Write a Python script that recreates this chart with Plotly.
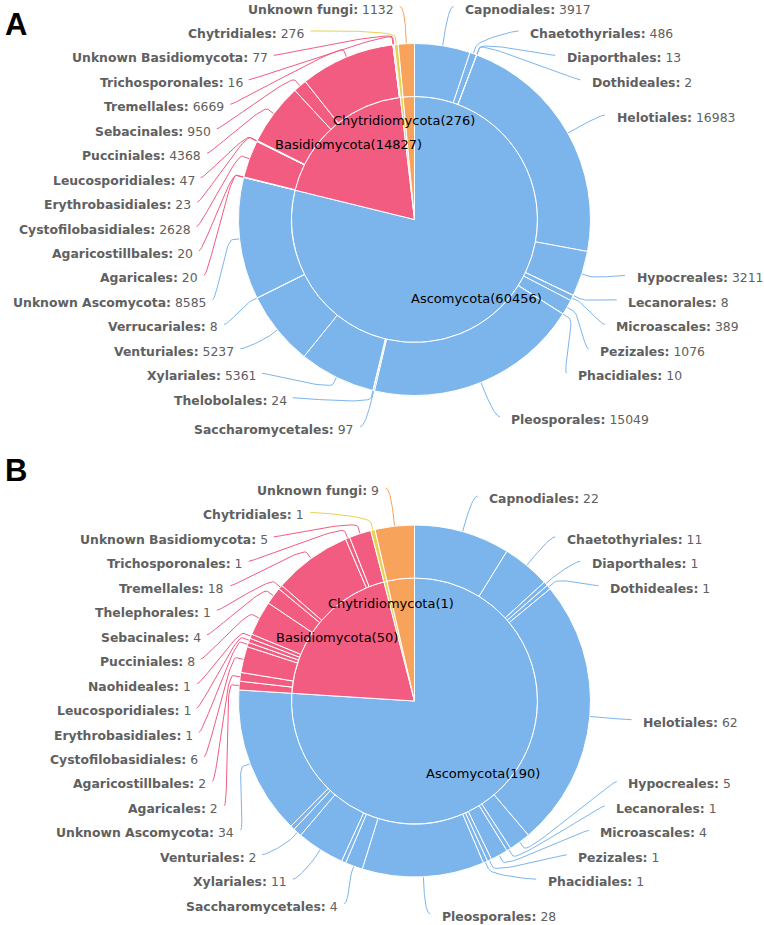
import math
import plotly.graph_objects as go

# ---------------- data ----------------
phyla = ["Ascomycota", "Basidiomycota", "Chytridiomycota", "Unknown fungi"]
phylum_colors = ["#7cb5ec", "#f15c80", "#e4d354", "#f7a35c"]
phylum_inner_label = [True, True, True, False]

# Panel A
a_phylum_values = [60456, 14827, 276, 1132]
a_orders = ["Capnodiales", "Chaetothyriales", "Diaporthales", "Dothideales", "Helotiales",
            "Hypocreales", "Lecanorales", "Microascales", "Pezizales", "Phacidiales",
            "Pleosporales", "Saccharomycetales", "Thelobolales", "Xylariales", "Venturiales",
            "Verrucariales", "Unknown Ascomycota",
            "Agaricales", "Agaricostillbales", "Cystofilobasidiales", "Erythrobasidiales",
            "Leucosporidiales", "Pucciniales", "Sebacinales", "Tremellales", "Trichosporonales",
            "Unknown Basidiomycota",
            "Chytridiales",
            "Unknown fungi"]
a_order_values = [3917, 486, 13, 2, 16983,
                  3211, 8, 389, 1076, 10,
                  15049, 97, 24, 5361, 5237,
                  8, 8585,
                  20, 20, 2628, 23,
                  47, 4368, 950, 6669, 16,
                  77,
                  276,
                  1132]
a_order_phylum = [0] * 17 + [1] * 10 + [2, 3]

# Panel B
b_phylum_values = [190, 50, 1, 9]
b_orders = ["Capnodiales", "Chaetothyriales", "Diaporthales", "Dothideales", "Helotiales",
            "Hypocreales", "Lecanorales", "Microascales", "Pezizales", "Phacidiales",
            "Pleosporales", "Saccharomycetales", "Thelobolales", "Xylariales", "Venturiales",
            "Verrucariales", "Unknown Ascomycota",
            "Agaricales", "Agaricostillbales", "Cystofilobasidiales", "Erythrobasidiales",
            "Leucosporidiales", "Naohideales", "Pucciniales", "Sebacinales", "Thelephorales",
            "Tremellales", "Trichosporonales", "Unknown Basidiomycota",
            "Chytridiales",
            "Unknown fungi"]
b_order_values = [22, 11, 1, 1, 62,
                  5, 1, 4, 1, 1,
                  28, 4, 1, 11, 2,
                  1, 34,
                  2, 2, 6, 1,
                  1, 1, 8, 4, 1,
                  18, 1, 5,
                  1,
                  9]
b_order_phylum = [0] * 17 + [1] * 12 + [2, 3]

# ---------------- geometry / style ----------------
W, H = 764, 925
R_OUT, R_IN = 176, 123
LABEL_DIST = 37
SLOT_H = 24.45
INNER_LABEL_R = 100
BASE_CY = 219.5
LABEL_FONT = dict(family="DejaVu Sans", size=12.4, color="#606060")
INNER_FONT = dict(family="DejaVu Sans", size=13, color="#000000")
panels = [
    dict(letter="A", cx=414.5, cy=219.5, letter_y=24,
         phylum_values=a_phylum_values, orders=a_orders,
         values=a_order_values, ophy=a_order_phylum),
    dict(letter="B", cx=414.5, cy=701.0, letter_y=470,
         phylum_values=b_phylum_values, orders=b_orders,
         values=b_order_values, ophy=b_order_phylum),
]


def domain(cx, cy, r):
    return dict(x=[(cx - r) / W, (cx + r) / W], y=[1 - (cy + r) / H, 1 - (cy - r) / H])


def place_labels(values, cx, cy):
    """Pie label distribution (slot based), returns list of label placements."""
    off = cy - BASE_CY
    RD = R_OUT + LABEL_DIST
    total = float(sum(values))
    pts = []
    cum = 0.0
    for i, v in enumerate(values):
        ang = -math.pi / 2 + (cum + v / 2.0) / total * 2 * math.pi
        cum += v
        pts.append({"i": i, "v": v, "ang": ang,
                    "half": 1 if ang > math.pi / 2 else 0,
                    "ny": BASE_CY + math.sin(ang) * RD})
    top = max(0.0, BASE_CY - RD)
    bottom = BASE_CY + RD
    slots0 = []
    pos = top
    while pos <= bottom:
        slots0.append(pos)
        pos += SLOT_H
    ns = len(slots0)
    result = []
    for h in (1, 0):
        points = [p for p in pts if p["half"] == h]
        points.sort(key=lambda p: -p["ang"] if h else p["ang"])
        if len(points) > ns:
            ranked = sorted(points, key=lambda p: -p["v"])
            keep = {p["i"] for p in ranked[:ns]}
            points = [p for p in points if p["i"] in keep]
        L = len(points)
        slots = list(slots0)
        used = []
        for j, p in enumerate(points):
            closest, si = 1e9, 0
            for k in range(ns):
                sv = slots[k] if slots[k] is not None else 0.0
                d = abs(sv - p["ny"])
                if d < closest:
                    closest, si = d, k
            if si < j and slots[j] is not None:
                si = j
            elif ns < L - j + si and slots[j] is not None:
                si = ns - L + j
                while si < ns - 1 and slots[si] is None:
                    si += 1
            else:
                while si < ns - 1 and slots[si] is None:
                    si += 1
            used.append((si, slots0[si]))
            slots[si] = None
        used.sort(key=lambda t: t[1])
        for j, p in enumerate(points):
            si, y = used[j]
            nxt_free = (si + 1 >= ns) or slots[si + 1] is not None
            prv_free = (si - 1 < 0) or slots[si - 1] is not None
            if (p["ny"] > y and nxt_free) or (p["ny"] < y and prv_free):
                y = p["ny"]
            yx = p["ny"] if (y == top or y == bottom) else y
            s = max(-1.0, min(1.0, (yx - BASE_CY) / RD))
            x = cx + (-1 if h else 1) * math.cos(math.asin(s)) * RD
            result.append(dict(i=p["i"], ang=p["ang"], left=bool(h), x=x, y=y + off))
    return result


def bezier(p0, p1, p2, p3, n=24):
    xs, ys = [], []
    for k in range(n + 1):
        t = k / n
        a, b, c, d = (1 - t) ** 3, 3 * (1 - t) ** 2 * t, 3 * (1 - t) * t ** 2, t ** 3
        xs.append(a * p0[0] + b * p1[0] + c * p2[0] + d * p3[0])
        ys.append(a * p0[1] + b * p1[1] + c * p2[1] + d * p3[1])
    return xs, ys


fig = go.Figure()
annotations = []
co = min(11, LABEL_DIST / 5.0)

for pn in panels:
    cx, cy = pn["cx"], pn["cy"]
    # inner pie (phyla)
    fig.add_trace(go.Pie(
        values=pn["phylum_values"], labels=phyla,
        marker=dict(colors=phylum_colors, line=dict(color="white", width=1)),
        domain=domain(cx, cy, R_IN), sort=False, direction="clockwise", rotation=0,
        textinfo="none", hoverinfo="label+value", showlegend=False))
    # outer ring (orders)
    fig.add_trace(go.Pie(
        values=pn["values"], labels=pn["orders"],
        marker=dict(colors=[phylum_colors[k] for k in pn["ophy"]],
                    line=dict(color="white", width=1)),
        hole=R_IN / R_OUT,
        domain=domain(cx, cy, R_OUT), sort=False, direction="clockwise", rotation=0,
        textinfo="none", hoverinfo="label+value", showlegend=False))

    # inner labels
    ptot = float(sum(pn["phylum_values"]))
    cum = 0.0
    for k, v in enumerate(pn["phylum_values"]):
        ang = -math.pi / 2 + (cum + v / 2.0) / ptot * 2 * math.pi
        cum += v
        if not phylum_inner_label[k]:
            continue
        annotations.append(dict(
            x=cx + math.cos(ang) * INNER_LABEL_R, y=cy + math.sin(ang) * INNER_LABEL_R,
            xref="x", yref="y", text=f"{phyla[k]}({v})", showarrow=False,
            xanchor="center", yanchor="middle", font=INNER_FONT, borderpad=0))

    # outer labels + connectors
    conn = {k: ([], []) for k in range(4)}
    for lab in place_labels(pn["values"], cx, cy):
        i = lab["i"]
        ang = lab["ang"]
        ex, ey = cx + math.cos(ang) * R_OUT, cy + math.sin(ang) * R_OUT
        bx, by = cx + math.cos(ang) * (R_OUT + co), cy + math.sin(ang) * (R_OUT + co)
        x, y = lab["x"], lab["y"]
        p0 = (x + (-5 if lab["left"] else 5), y)
        xs, ys = bezier(p0, (x, y), (2 * bx - ex, 2 * by - ey), (bx, by))
        xs.append(ex)
        ys.append(ey)
        cl = conn[pn["ophy"][i]]
        cl[0].extend(xs + [None])
        cl[1].extend(ys + [None])
        name, val = pn["orders"][i], pn["values"][i]
        annotations.append(dict(
            x=(x - 10) if lab["left"] else (x + 15.5), y=y + 2.5, xref="x", yref="y",
            text=f"<b>{name}:</b> {val}", showarrow=False,
            xanchor="right" if lab["left"] else "left", yanchor="middle",
            font=LABEL_FONT, borderpad=0))
    for k, (xs, ys) in conn.items():
        if xs:
            fig.add_trace(go.Scatter(x=xs, y=ys, mode="lines",
                                     line=dict(color=phylum_colors[k], width=1),
                                     hoverinfo="skip", showlegend=False))

    annotations.append(dict(x=3, y=pn["letter_y"], xref="x", yref="y", text=f"<b>{pn['letter']}</b>",
                            showarrow=False, xanchor="left", yanchor="middle",
                            font=dict(family="Liberation Sans", size=31, color="#000000")))

fig.update_layout(
    width=W, height=H, margin=dict(l=0, r=0, t=0, b=0),
    paper_bgcolor="white", plot_bgcolor="white", showlegend=False,
    xaxis=dict(range=[0, W], visible=False, fixedrange=True),
    yaxis=dict(range=[H, 0], visible=False, fixedrange=True),
    annotations=annotations,
)

fig.write_html("out.html", config={"displayModeBar": False},
               post_script="document.body.style.margin='0';document.body.style.overflow='hidden';")
